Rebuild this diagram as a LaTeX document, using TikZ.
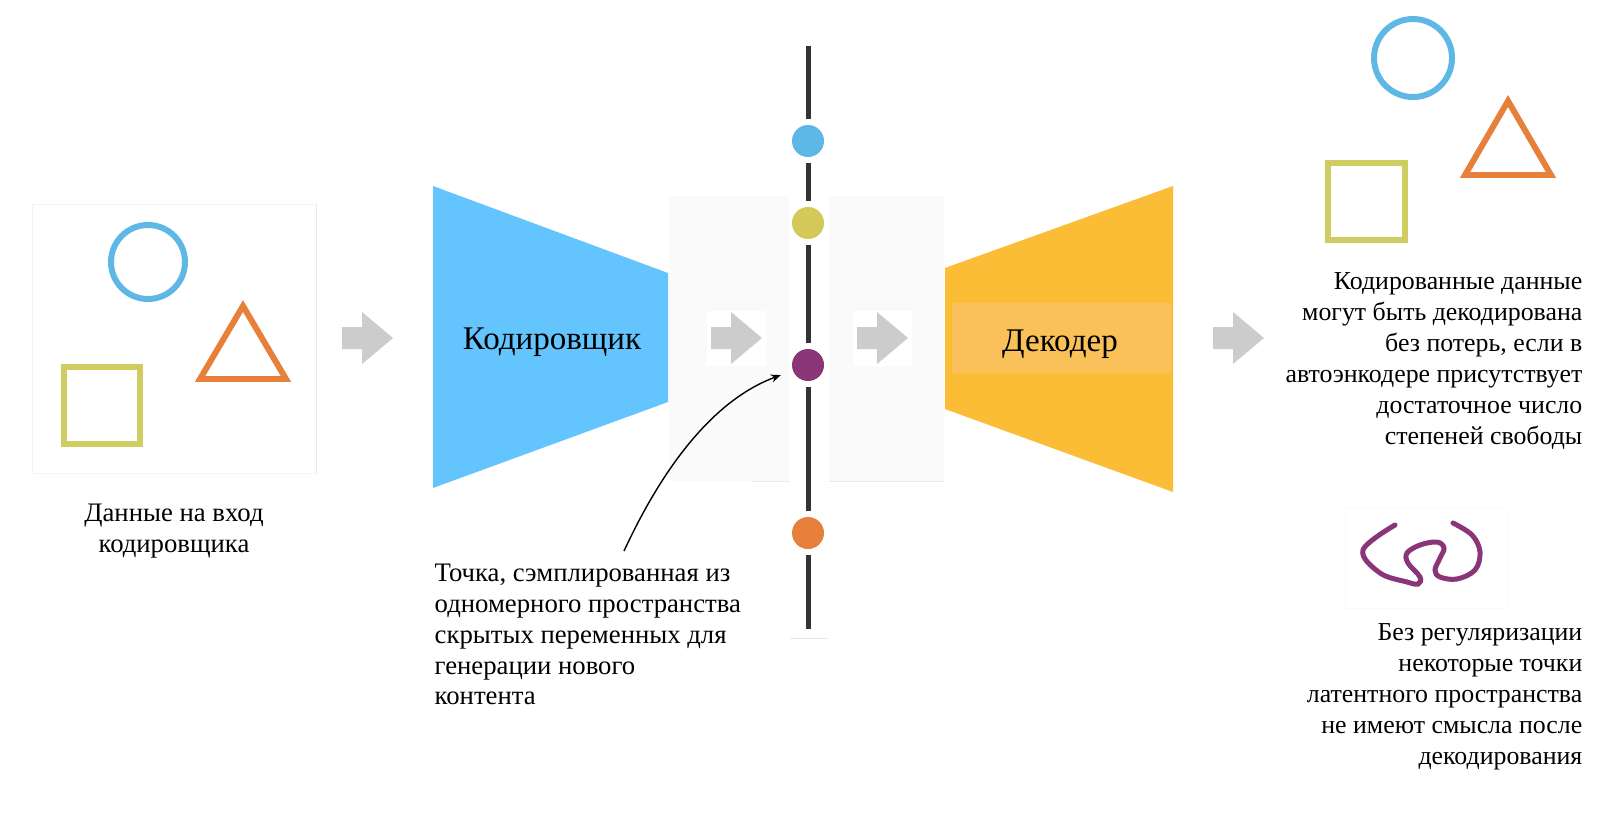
\documentclass[tikz,border=0pt]{standalone}
\usepackage{fontspec}
\setmainfont{Liberation Serif}
\usetikzlibrary{arrows.meta}
\definecolor{cblue}{RGB}{93,184,229}
\definecolor{corange}{RGB}{230,128,58}
\definecolor{colive}{RGB}{207,205,98}
\definecolor{cpurple}{RGB}{139,53,121}
\definecolor{cdotyel}{RGB}{211,200,88}
\definecolor{cenc}{RGB}{100,197,254}
\definecolor{cdec}{RGB}{251,188,54}
\definecolor{cdecin}{RGB}{250,193,90}
\definecolor{carrow}{RGB}{204,204,204}
\definecolor{cline}{RGB}{51,51,51}
\definecolor{cpanel}{RGB}{250,250,250}
\tikzset{
  shapeline/.style={line width=1.7pt},
  note/.style={font=\fontsize{7.6}{8.8}\selectfont, inner sep=0pt},
  rnote/.style={font=\fontsize{7.35}{8.8}\selectfont, inner sep=0pt},
  bignote/.style={font=\fontsize{9.4}{10.5}\selectfont, inner sep=0pt},
  latdot/.style={circle, minimum size=9.1pt, inner sep=0pt, outer sep=1.7pt, draw=none},
  axisline/.style={cline, line width=1.42pt},
  faint/.style={black!9, line width=0.28pt},
  garrow/.pic={\fill[carrow] (0,-11) -- (20,-11) -- (20,-26) -- (51,0) -- (20,26) -- (20,11) -- (0,11) -- cycle;}
}
\begin{document}
\begin{tikzpicture}[x=0.01cm,y=-0.01cm]
\useasboundingbox[fill=white] (0,0) rectangle (1600,812);

% faint panels
\draw[black!4, line width=0.28pt] (32,204) rectangle (316,473);
\draw[black!9, line width=0.28pt] (316,204) -- (316,473);
\fill[cpanel] (669,196) rectangle (789,481);
\fill[cpanel] (829,196) rectangle (944,481);
\fill[white] (707,311) rectangle (766,366);
\fill[white] (853,311) rectangle (912,366);
\draw[faint] (753,481) -- (789,481);
\draw[faint] (829,481) -- (944,481);
\draw[faint] (790,638) -- (828,638);
\draw[black!2, line width=0.28pt] (1345,507) rectangle (1507,608);

% input shapes
\draw[cblue, shapeline] (148,262) circle (37);
\draw[corange, shapeline, line join=miter] (243,306) -- (286,379) -- (200,379) -- cycle;
\draw[colive, shapeline] (64,367) rectangle (140,444);

% output shapes
\draw[cblue, shapeline] (1413,58) circle (39);
\draw[corange, shapeline, line join=miter] (1508,101) -- (1551,175) -- (1465,175) -- cycle;
\draw[colive, shapeline] (1328,163) rectangle (1405,240);

% gray block arrows
\pic at (342,338) {garrow};
\pic at (711,338) {garrow};
\pic at (857,338) {garrow};
\pic at (1213,338) {garrow};

% encoder
\fill[cenc] (433,186) -- (668,273) -- (668,402) -- (433,488) -- cycle;
\node[bignote] (enc) at (552,342) {Кодировщик};

% decoder
\fill[cdec] (945,268) -- (1173,186) -- (1173,492) -- (945,409) -- cycle;
\fill[cdecin] (952,303) rectangle (1171,373);
\node[bignote] (dec) at (1060,344) {Декодер};

% latent axis
\coordinate (ltop) at (808,46);
\coordinate (lbot) at (808,629);
\node[latdot, fill=cblue] (d1) at (808,141) {};
\node[latdot, fill=cdotyel] (d2) at (808,223) {};
\node[latdot, fill=cpurple] (d3) at (808,365) {};
\node[latdot, fill=corange] (d4) at (808,533) {};
\draw[axisline] (ltop) -- (d1);
\draw[axisline] (d1) -- (d2);
\draw[axisline] (d2) -- (d3);
\draw[axisline] (d3) -- (d4);
\draw[axisline] (d4) -- (lbot);

% squiggle
\draw[cpurple, line width=1.42pt, line cap=round] plot[smooth, tension=0.6] coordinates {
 (1395,525) (1363,550) (1380,573) (1407,582) (1418,584) (1420,577) (1408,563)
 (1407,553) (1420,545) (1437,542) (1444,548) (1440,558) (1435,570) (1440,577)
 (1457,579) (1475,570) (1480,552) (1472,535) (1453,523)};

% texts
\node[note, align=center, anchor=north] (inlbl) at (174,503) {Данные на вход\\кодировщика};
\node[note, align=left, anchor=north west] (pointlbl) at (434,563)
  {Точка, сэмплированная из\\одномерного пространства\\скрытых переменных для\\генерации нового\\контента};
\node[rnote, align=right, anchor=north east] (outlbl) at (1583,272)
  {Кодированные данные\\могут быть декодирована\\без потерь, если в\\автоэнкодере присутствует\\достаточное число\\степеней свободы};
\node[rnote, align=right, anchor=north east] (reglbl) at (1583,623)
  {Без регуляризации\\некоторые точки\\латентного пространства\\не имеют смысла после\\декодирования};

% pointer arrow
\coordinate (pstart) at (624,551);
\draw[-{Stealth[length=2.8pt,width=2.3pt]}, line width=0.4pt, shorten >=2pt]
  (pstart) .. controls (650,495) and (700,405) .. (d3);
\end{tikzpicture}
\end{document}
